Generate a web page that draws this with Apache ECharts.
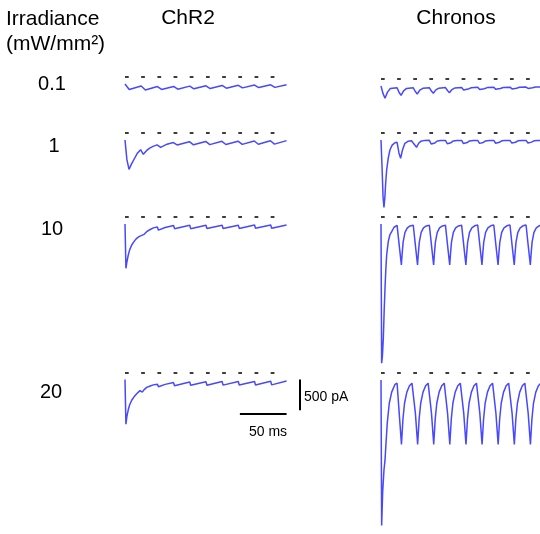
<!DOCTYPE html>
<html>
<head>
<meta charset="utf-8">
<script src="https://cdn.jsdelivr.net/npm/echarts@6/dist/echarts.min.js"></script>
<style>
  html, body { margin: 0; padding: 0; background: #fff; }
  #chart { width: 540px; height: 534px; }
</style>
</head>
<body>
<div id="chart"></div>
<script>
// Photocurrent responses of ChR2 and Chronos to trains of 10 light pulses
// at four irradiances. Time in ms from first pulse onset, current in pA.

const constructs = ['ChR2', 'Chronos'];
const irradianceLevels = ['0.1', '1', '10', '20'];
const pulseOnsets = [0, 17.3, 34.7, 52, 69.3, 86.7, 104, 121.3, 138.7, 156];
const pulseWidthMs = 4;
const scaleBarPA = 500;
const scaleBarMs = 50;

// ChR2 traces
const chr2Trace01 = [
  [0, 0], [4.5, -85], [17.3, -30], [21.8, -92], [34.7, -40], [39.2, -85], [52, -38], [56.5, -80],
  [69.3, -33], [73.8, -75], [86.7, -28], [91.2, -70], [104, -22], [108.5, -65], [121.3, -20],
  [125.8, -60], [138.7, -16], [143.2, -55], [156, -12], [160.5, -52], [173, -10]
];
const chr2Trace1 = [
  [0, 0], [2, -300], [4.3, -454], [7, -370], [10, -290], [13, -210], [16.7, -150], [19.6, -221],
  [23, -165], [26, -130], [30, -98], [34.4, -75], [38.2, -113], [45, -65], [51.7, -40], [55.8, -77],
  [69, -26], [73.3, -75], [86.4, -22], [90.8, -72], [103.7, -20], [108, -70], [121, -18],
  [125.5, -68], [138.4, -15], [142.8, -66], [155.7, -12], [160, -64], [173, -10]
];
const chr2Trace10 = [
  [0, 0], [1, -686], [2, -590], [3.5, -480], [5, -400], [7.2, -325], [10, -265], [12.5, -221],
  [15, -195], [17.3, -180], [18.5, -200], [20.5, -160], [23.2, -119], [27, -85], [30.4, -60],
  [34.7, -48], [35.8, -95], [43, -55], [52, -22], [53, -72], [69.3, -20], [70.3, -72],
  [86.7, -20], [87.7, -70], [104, -18], [105, -70], [121.3, -18], [122.3, -68], [138.7, -16],
  [139.7, -66], [156, -15], [157, -65], [173, -14]
];
const chr2Trace20 = [
  [0, 0], [1, -723], [2, -600], [3.5, -491], [5, -410], [7.2, -336], [10, -275], [12.5, -232],
  [16, -181], [17.3, -178], [18.5, -206], [20.5, -165], [23.2, -129], [27, -105], [30.3, -88],
  [34.7, -77], [35.8, -119], [43, -80], [52, -51], [53, -103], [69.3, -40], [70.3, -95],
  [86.7, -36], [87.7, -93], [104, -34], [105, -92], [121.3, -33], [122.3, -90], [138.7, -32],
  [139.7, -89], [156, -30], [157, -88], [173, -25]
];

// Chronos traces
const chronosTrace01 = [
  [0, 0], [2, -110], [4.3, -191], [7, -95], [10, -40], [17.3, -26],
  [19.5, -100], [21.6, -144], [24.3, -75], [27.5, -38], [34.7, -28],
  [36.9, -85], [39, -124], [41.7, -65], [45, -36], [52, -26],
  [54.2, -78], [56.3, -113], [59, -60], [62.3, -33], [69.3, -24],
  [71.5, -70], [73.6, -103], [76.3, -55], [79.6, -30], [86.7, -22],
  [88.9, -62], [91, -88], [93.7, -48], [97, -28], [104, -20],
  [106.2, -55], [108.3, -77], [111, -42], [114.3, -25], [121.3, -20],
  [123.5, -52], [125.6, -72], [128.3, -40], [131.6, -24], [138.7, -18],
  [140.9, -45], [143, -62], [145.7, -35], [149, -20], [156, -16],
  [158.2, -38], [160.3, -52], [163, -28], [166.3, -17], [174, -15]
];
const chronosTrace1 = [
  [0, 0], [1.2, -450], [2.2, -880], [3.2, -1042], [4.2, -880], [5.1, -650], [6.1, -464],
  [7.8, -280], [9.6, -155], [12, -80], [15, -42], [17.3, -35],
  [19.3, -200], [21.1, -284], [23, -160], [25.7, -51], [29, -20], [32.8, -11], [34.7, -10],
  [36.5, -80], [38.2, -113], [40.5, -50], [43, -18], [47, -6], [52, -5],
  [54, -62], [55.8, -90], [58, -45], [60.5, -16], [64.5, -7], [69.3, -6],
  [71.3, -58], [73.1, -85], [75.3, -42], [77.8, -15], [81.8, -7], [86.7, -6],
  [88.7, -55], [90.5, -82], [92.7, -40], [95.2, -14], [99.2, -7], [104, -6],
  [106, -52], [107.8, -80], [110, -38], [112.5, -14], [116.5, -7], [121.3, -6],
  [123.3, -50], [125.1, -78], [127.3, -36], [129.8, -13], [133.8, -7], [138.7, -6],
  [140.7, -48], [142.5, -75], [144.7, -35], [147.2, -13], [151.2, -7], [156, -6],
  [158, -46], [159.8, -72], [162, -33], [164.5, -12], [168.5, -7], [174, -6]
];
const chronosTrace10 = [
  [0, 0], [0.7, -2156], [1.5, -2050], [2.5, -1770], [3.4, -1350], [4.3, -995], [5.2, -700],
  [6.1, -480], [7.8, -274], [9.5, -170], [11.5, -119], [14, -50], [16.1, -26], [17.3, -22],
  [19.6, -330], [21.9, -635], [22.8, -450], [23.8, -280], [25.8, -130], [28.3, -60], [31.3, -30], [34.7, -20],
  [37, -330], [39.3, -635], [40.2, -450], [41.2, -280], [43.2, -130], [45.7, -60], [48.7, -30], [52, -20],
  [54.3, -330], [56.6, -635], [57.5, -450], [58.5, -280], [60.5, -130], [63, -60], [66, -30], [69.3, -18],
  [71.6, -330], [73.9, -635], [74.8, -450], [75.8, -280], [77.8, -130], [80.3, -60], [83.3, -30], [86.7, -18],
  [89, -330], [91.3, -635], [92.2, -450], [93.2, -280], [95.2, -130], [97.7, -60], [100.7, -28], [104, -16],
  [106.3, -330], [108.6, -635], [109.5, -450], [110.5, -280], [112.5, -130], [115, -60], [118, -28], [121.3, -16],
  [123.6, -330], [125.9, -635], [126.8, -450], [127.8, -280], [129.8, -130], [132.3, -60], [135.3, -28], [138.7, -16],
  [141, -330], [143.3, -635], [144.2, -450], [145.2, -280], [147.2, -130], [149.7, -60], [152.7, -28], [156, -16],
  [158.3, -330], [160.6, -635], [161.5, -450], [162.5, -280], [164.5, -130], [167, -60], [170, -28], [174, -16]
];
const chronosTrace20 = [
  [0, 0], [0.7, -2362], [1.8, -1820], [3.2, -1460], [4.3, -1305], [5.3, -1046], [6.8, -686],
  [8.9, -376], [11.5, -195], [15, -71], [17.3, -51],
  [19.6, -540], [22, -1046], [23.6, -635], [25.3, -376], [27.8, -195], [30.6, -93], [33.3, -50], [34.7, -40],
  [37, -540], [39.4, -1046], [41, -635], [42.7, -376], [45.2, -195], [48, -93], [50.7, -50], [52, -40],
  [54.3, -540], [56.7, -1046], [58.3, -635], [60, -376], [62.5, -195], [65.3, -93], [68, -50], [69.3, -40],
  [71.6, -540], [74, -1046], [75.6, -635], [77.3, -376], [79.8, -195], [82.6, -93], [85.3, -50], [86.7, -40],
  [89, -540], [91.4, -1046], [93, -635], [94.7, -376], [97.2, -195], [100, -93], [102.7, -50], [104, -40],
  [106.3, -540], [108.7, -1046], [110.3, -635], [112, -376], [114.5, -195], [117.3, -93], [120, -50], [121.3, -40],
  [123.6, -540], [126, -1046], [127.6, -635], [129.3, -376], [131.8, -195], [134.6, -93], [137.3, -50], [138.7, -40],
  [141, -540], [143.4, -1046], [145, -635], [146.7, -376], [149.2, -195], [152, -93], [154.7, -50], [156, -40],
  [158.3, -540], [160.7, -1046], [162.3, -635], [164, -376], [166.5, -195], [169.3, -93], [172, -50], [174, -40]
];

// ---- layout ----
const PX_PER_MS = 0.934;
const PX_PER_PA = 32.3 / 500;
const Y_MIN = -2500, Y_MAX = 200;
const PULSE_MARK_PA = 115;          // stimulus markers drawn just above the zero level
const TRACE_COLOR = '#4848ff';
const FONT = 'Arial, "Liberation Sans", sans-serif';

const panels = [
  { trace: chr2Trace01,    left: 125, base: 84,    xMax: 200 },
  { trace: chr2Trace1,     left: 125, base: 140,   xMax: 200 },
  { trace: chr2Trace10,    left: 125, base: 224,   xMax: 200 },
  { trace: chr2Trace20,    left: 125, base: 380,   xMax: 200, scaleBars: true },
  { trace: chronosTrace01, left: 381, base: 86,    xMax: 171 },
  { trace: chronosTrace1,  left: 381, base: 140,   xMax: 171 },
  { trace: chronosTrace10, left: 381, base: 224,   xMax: 171 },
  { trace: chronosTrace20, left: 381, base: 380.7, xMax: 171 }
];

const grid = [], xAxis = [], yAxis = [], series = [];
panels.forEach((p, i) => {
  grid.push({
    left: p.left,
    top: p.base - Y_MAX * PX_PER_PA,
    width: p.xMax * PX_PER_MS,
    height: (Y_MAX - Y_MIN) * PX_PER_PA
  });
  xAxis.push({ type: 'value', gridIndex: i, min: 0, max: p.xMax, show: false });
  yAxis.push({ type: 'value', gridIndex: i, min: Y_MIN, max: Y_MAX, show: false });

  series.push({
    type: 'line', xAxisIndex: i, yAxisIndex: i, data: p.trace,
    symbol: 'none', clip: true, silent: true,
    lineStyle: { color: TRACE_COLOR, width: 1.5 }
  });
  series.push({
    type: 'lines', coordinateSystem: 'cartesian2d', xAxisIndex: i, yAxisIndex: i, silent: true,
    data: pulseOnsets.map(t => ({ coords: [[t, PULSE_MARK_PA], [t + pulseWidthMs, PULSE_MARK_PA]] })),
    lineStyle: { color: '#3c3c3c', width: 2, opacity: 1, cap: 'butt' }
  });
  if (p.scaleBars) {
    series.push({
      type: 'lines', coordinateSystem: 'cartesian2d', xAxisIndex: i, yAxisIndex: i, silent: true,
      data: [
        { coords: [[187.5, 0], [187.5, -scaleBarPA]] },
        { coords: [[123, -550], [123 + scaleBarMs, -550]] }
      ],
      lineStyle: { color: '#000', width: 2, opacity: 1, cap: 'butt' }
    });
  }
});

const rowLabelX = [52, 54, 52, 51];
const rowLabelY = [84, 146, 229, 392];
const graphic = [
  { type: 'text', left: 6, top: 7, style: { text: 'Irradiance\n(mW/mm\u00B2)', font: '21px ' + FONT, fill: '#000', lineHeight: 25 } },
  { type: 'text', x: 188, y: 18, style: { text: constructs[0], font: '21px ' + FONT, fill: '#000', align: 'center', verticalAlign: 'middle' } },
  { type: 'text', x: 456, y: 18, style: { text: constructs[1], font: '21px ' + FONT, fill: '#000', align: 'center', verticalAlign: 'middle' } },
  { type: 'text', x: 304, y: 397, style: { text: scaleBarPA + ' pA', font: '14px ' + FONT, fill: '#000', align: 'left', verticalAlign: 'middle' } },
  { type: 'text', x: 268, y: 432, style: { text: scaleBarMs + ' ms', font: '14px ' + FONT, fill: '#000', align: 'center', verticalAlign: 'middle' } }
];
irradianceLevels.forEach((lab, k) => {
  graphic.push({ type: 'text', x: rowLabelX[k], y: rowLabelY[k], style: { text: lab, font: '20px ' + FONT, fill: '#000', align: 'center', verticalAlign: 'middle' } });
});

const chart = echarts.init(document.getElementById('chart'), null, { renderer: 'canvas' });
chart.setOption({
  animation: false,
  backgroundColor: '#fff',
  grid, xAxis, yAxis, series, graphic
});
</script>
</body>
</html>
